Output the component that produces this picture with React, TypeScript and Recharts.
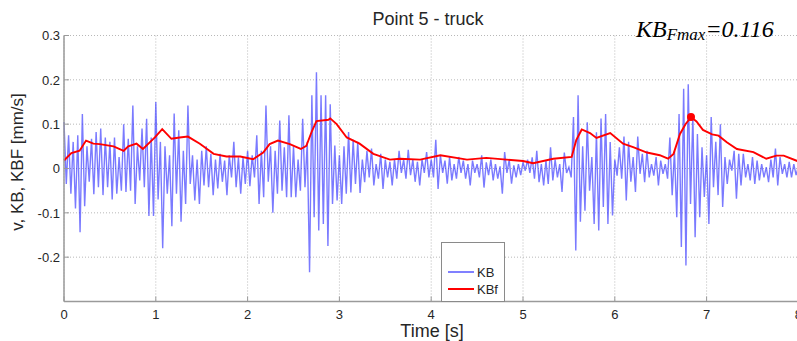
import { LineChart, Line, XAxis, YAxis, CartesianGrid, ReferenceDot } from 'recharts'

// KB velocity, sampled every 0.025 s, one array per second of record
const KB_STEP = 0.025
const KB_0 = [0.105, -0.035, 0.075, -0.057, 0.06, -0.09, 0.075, -0.144, 0.123, -0.085, 0.05, -0.03, 0.067, -0.058, 0.082, -0.042, 0.09, -0.06, 0.07, -0.042, 0.06, -0.07, 0.07, -0.057, 0.026, -0.05, 0.10, -0.053, 0.067, -0.05, 0.142, -0.08, 0.05, -0.027, 0.09, -0.042, 0.112, -0.107, 0.07, -0.107]
const KB_1 = [0.15, -0.07, 0.06, -0.18, 0.05, -0.057, 0.03, -0.13, 0.124, -0.057, 0.086, -0.12, 0.04, -0.08, 0.142, -0.035, 0.03, -0.072, 0.02, -0.08, 0.04, -0.038, 0.05, -0.042, 0.033, -0.06, 0.02, -0.045, 0.033, -0.03, 0.018, -0.06, 0.03, -0.02, 0.06, -0.042, 0.025, -0.057, 0.025, -0.035]
const KB_2 = [0.04, -0.04, 0.03, -0.02, 0.075, -0.08, 0.04, -0.065, 0.142, -0.03, 0.05, -0.1, 0.04, -0.057, 0.108, -0.05, 0.048, -0.065, 0.12, -0.065, 0.05, -0.065, 0.02, -0.05, 0.112, -0.042, 0.06, -0.234, 0.165, -0.11, 0.217, -0.14, 0.165, -0.125, 0.165, -0.175, 0.145, -0.08, 0.052, -0.072]
const KB_3 = [0.03, -0.08, 0.05, -0.057, 0.082, -0.054, 0.065, -0.035, 0.06, -0.055, 0.02, -0.031, 0.04, -0.02, 0.045, -0.038, 0.01, -0.023, 0.033, -0.046, 0.02, -0.02, 0.015, -0.038, 0.02, -0.023, 0.04, -0.01, 0.02, -0.023, 0.042, -0.015, 0.02, -0.03, 0.015, -0.038, 0.02, -0.01, 0.037, -0.02]
const KB_4 = [0.02, -0.02, 0.065, -0.046, 0.03, -0.01, 0.018, -0.034, 0.026, -0.027, 0.01, -0.023, 0.026, -0.01, 0.018, -0.023, 0.01, -0.038, 0.018, -0.01, 0.01, -0.02, 0.03, -0.043, 0.014, -0.015, 0.02, -0.027, 0.01, -0.023, 0.005, -0.057, 0.037, -0.01, 0.02, -0.034, 0.007, -0.02, 0.01, -0.015]
const KB_5 = [0.014, -0.005, 0.02, -0.01, 0.025, -0.023, 0.04, -0.031, 0.01, -0.038, 0.018, -0.035, 0.048, -0.027, 0.02, -0.02, 0.01, -0.053, 0.036, -0.01, 0.003, -0.02, 0.116, -0.185, 0.165, -0.12, 0.05, -0.095, 0.104, -0.05, 0.026, -0.125, 0.082, -0.14, 0.113, -0.087, 0.123, -0.125, 0.06, -0.106]
const KB_6 = [0.02, -0.016, 0.048, -0.023, 0.072, -0.072, 0.06, -0.03, 0.026, -0.053, 0.072, -0.012, 0.033, -0.031, 0.04, -0.02, 0.01, -0.016, 0.026, -0.038, 0.018, -0.012, 0.01, -0.023, 0.07, -0.06, 0.04, -0.11, 0.123, -0.177, 0.18, -0.219, 0.19, -0.08, 0.12, -0.155, 0.078, -0.11, 0.048, -0.064]
const KB_7 = [0.03, -0.125, 0.116, -0.042, 0.06, -0.06, 0.10, -0.087, 0.026, -0.035, 0.02, -0.005, 0.04, -0.068, 0.033, -0.038, 0.033, -0.02, 0.01, -0.027, 0.026, -0.035, 0.018, -0.027, 0.01, -0.02, 0.003, -0.031, 0.02, -0.02, 0.045, -0.038, 0.026, -0.012, 0.01, -0.02, 0.015, -0.02, 0.01, -0.015, 0.005]
const KB = [...KB_0, ...KB_1, ...KB_2, ...KB_3, ...KB_4, ...KB_5, ...KB_6, ...KB_7]

// KBf (filtered) curve
const KBF_TIME = [0, 0.08, 0.17, 0.24, 0.32, 0.39, 0.54, 0.65, 0.7, 0.79, 0.86, 0.99, 1.07, 1.17, 1.26, 1.35, 1.48, 1.63, 1.77, 1.92, 2.06, 2.17, 2.24, 2.33, 2.46, 2.58, 2.64, 2.7, 2.75, 2.88, 2.9, 2.97, 3.08, 3.22, 3.37, 3.55, 3.66, 3.88, 4.1, 4.39, 4.6, 4.82, 5.0, 5.11, 5.33, 5.53, 5.58, 5.64, 5.73, 5.8, 5.95, 6.09, 6.2, 6.35, 6.49, 6.58, 6.64, 6.71, 6.77, 6.83, 6.89, 6.96, 7.06, 7.13, 7.22, 7.33, 7.51, 7.65, 7.76, 7.84, 8.0]
const KBF = [0.018, 0.035, 0.04, 0.063, 0.056, 0.055, 0.05, 0.04, 0.05, 0.056, 0.044, 0.07, 0.089, 0.067, 0.07, 0.072, 0.056, 0.033, 0.027, 0.027, 0.021, 0.036, 0.055, 0.063, 0.055, 0.044, 0.051, 0.084, 0.107, 0.11, 0.113, 0.1, 0.07, 0.056, 0.033, 0.02, 0.022, 0.02, 0.03, 0.02, 0.024, 0.02, 0.017, 0.012, 0.022, 0.026, 0.064, 0.088, 0.08, 0.069, 0.08, 0.056, 0.048, 0.036, 0.03, 0.022, 0.033, 0.078, 0.1, 0.116, 0.106, 0.087, 0.077, 0.074, 0.059, 0.044, 0.037, 0.022, 0.029, 0.029, 0.016]

const X_TICKS = [0, 1, 2, 3, 4, 5, 6, 7, 8]
const Y_TICKS = [-0.3, -0.2, -0.1, 0, 0.1, 0.2, 0.3]

const kbData = KB.map((v, i) => ({ t: Math.round(i * KB_STEP * 1000) / 1000, v }))
const kbfData = KBF_TIME.map((t, i) => ({ t, v: KBF[i] }))
const peak = kbfData.reduce((a, b) => (b.v > a.v ? b : a))

const AXIS = '#9a9a9a'
const TEXT = '#262626'
const SANS = '"Liberation Sans", Arial, sans-serif'

function YTick({ x, y, payload }: any) {
  const v = payload.value
  const label = v === -0.3 ? '' : String(Math.round(v * 10) / 10)
  return (
    <g>
      <line x1={x} x2={x + 5} y1={y} y2={y} stroke={AXIS} />
      <text x={x - 4} y={y} dy={4.7} textAnchor="end" fontSize={13} fontFamily={SANS} fill={TEXT}>{label}</text>
    </g>
  )
}

function XTick({ x, y, payload }: any) {
  return (
    <g>
      <line x1={x} x2={x} y1={y} y2={y - 5} stroke={AXIS} />
      <text x={x} y={y + 17} textAnchor="middle" fontSize={13} fontFamily={SANS} fill={TEXT}>{payload.value}</text>
    </g>
  )
}

export default function App() {
  return (
    <div style={{ position: 'fixed', left: 0, top: 0, width: 797, height: 341, overflow: 'hidden', background: '#fff', fontFamily: SANS }}>
      <LineChart width={830} height={341} margin={{ top: 35.5, right: 31.6, left: 0, bottom: 0 }}>
        <CartesianGrid stroke="#b8b8b8" strokeDasharray="1 2" />
        <XAxis
          dataKey="t" type="number" domain={[0, 8]} ticks={X_TICKS} interval={0} height={39.5}
          axisLine={{ stroke: AXIS, strokeWidth: 1.5 }} tickLine={false} tickSize={0} tickMargin={0}
          tick={(p: any) => <XTick {...p} />}
        />
        <YAxis
          type="number" domain={[-0.3, 0.3]} ticks={Y_TICKS} interval={0} width={64} allowDataOverflow
          axisLine={{ stroke: AXIS, strokeWidth: 1.5 }} tickLine={false} tickSize={0} tickMargin={0}
          tick={(p: any) => <YTick {...p} />}
        />
        <Line data={kbData} dataKey="v" type="linear" stroke="#2828ff" strokeOpacity={0.62} strokeWidth={1.4} dot={false} isAnimationActive={false} />
        <Line data={kbfData} dataKey="v" type="linear" stroke="#ff0000" strokeWidth={1.9} dot={false} isAnimationActive={false} />
        <ReferenceDot x={peak.t} y={peak.v} r={4} fill="#ff0000" stroke="none" />
      </LineChart>

      <div style={{ position: 'absolute', left: 0, width: 856, top: 9.75, lineHeight: 1, textAlign: 'center', fontSize: 18, color: TEXT }}>
        Point 5 - truck
      </div>
      <div style={{ position: 'absolute', left: 0, width: 864, top: 321.5, lineHeight: 1, textAlign: 'center', fontSize: 18, color: TEXT }}>
        Time [s]
      </div>
      <div style={{ position: 'absolute', left: 17, top: 162, width: 0, height: 0 }}>
        <div style={{ position: 'absolute', left: 0, top: 0, transform: 'translate(-50%, -50%) rotate(-90deg)', whiteSpace: 'nowrap', lineHeight: 1, fontSize: 17, color: TEXT }}>
          v, KB, KBF [mm/s]
        </div>
      </div>
      <div style={{ position: 'absolute', left: 636, top: 17, fontFamily: '"Liberation Serif", "Times New Roman", serif', fontStyle: 'italic', fontSize: 24, lineHeight: 1, color: '#000', whiteSpace: 'nowrap' }}>
        KB<span style={{ fontSize: 17, position: 'relative', top: 3 }}>Fmax</span>=0.116
      </div>

      <div style={{ position: 'absolute', left: 441, top: 242, width: 62, height: 58, background: '#fff', border: '1px solid #8a8a8a', fontSize: 13, color: TEXT }}>
        <svg width={62} height={58} style={{ position: 'absolute', left: 0, top: 0 }}>
          <line x1={6} x2={32} y1={29} y2={29} stroke="#8080ff" strokeWidth={2} />
          <line x1={6} x2={32} y1={46} y2={46} stroke="#ff0000" strokeWidth={2} />
          <text x={35} y={33.5} fontSize={13} fontFamily={SANS} fill={TEXT}>KB</text>
          <text x={35} y={50.5} fontSize={13} fontFamily={SANS} fill={TEXT}>KBf</text>
        </svg>
      </div>
    </div>
  )
}
